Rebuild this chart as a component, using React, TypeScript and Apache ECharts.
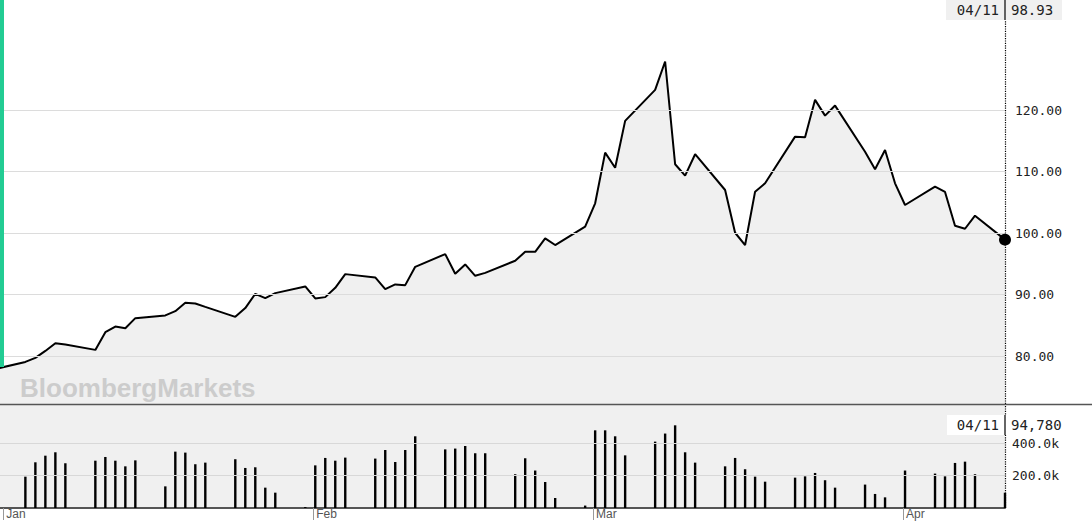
import React, { useEffect, useRef } from "react";
import * as echarts from "echarts";

const prevDate = "2021-12-31";
const prevClose = 77.9;

const tradeDates = [
  "2022-01-03","2022-01-04","2022-01-05","2022-01-06","2022-01-07",
  "2022-01-10","2022-01-11","2022-01-12","2022-01-13","2022-01-14",
  "2022-01-17","2022-01-18","2022-01-19","2022-01-20","2022-01-21",
  "2022-01-24","2022-01-25","2022-01-26","2022-01-27","2022-01-28",
  "2022-01-31","2022-02-01","2022-02-02","2022-02-03","2022-02-04",
  "2022-02-07","2022-02-08","2022-02-09","2022-02-10","2022-02-11",
  "2022-02-14","2022-02-15","2022-02-16","2022-02-17","2022-02-18",
  "2022-02-21","2022-02-22","2022-02-23","2022-02-24","2022-02-25",
  "2022-02-28","2022-03-01","2022-03-02","2022-03-03","2022-03-04",
  "2022-03-07","2022-03-08","2022-03-09","2022-03-10","2022-03-11",
  "2022-03-14","2022-03-15","2022-03-16","2022-03-17","2022-03-18",
  "2022-03-21","2022-03-22","2022-03-23","2022-03-24","2022-03-25",
  "2022-03-28","2022-03-29","2022-03-30","2022-03-31","2022-04-01",
  "2022-04-04","2022-04-05","2022-04-06","2022-04-07","2022-04-08",
  "2022-04-11",
];

const closes = [
  79.04, 79.7, 80.83, 82.08, 81.87,
  81.0, 83.88, 84.8, 84.53, 86.16,
  86.6, 87.3, 88.65, 88.55, 88.0,
  86.37, 87.8, 90.11, 89.41, 90.23,
  91.32, 89.36, 89.58, 91.09, 93.32,
  92.79, 90.88, 91.65, 91.53, 94.51,
  96.58, 93.37, 94.9, 93.05, 93.52,
  95.49, 96.95, 96.95, 99.14, 98.05,
  101.03, 104.84, 113.08, 110.63, 118.24,
  123.29, 127.9, 111.19, 109.33, 112.82,
  107.0, 100.05, 98.05, 106.73, 108.09,
  115.68, 115.59, 121.66, 119.1, 120.73,
  113.22, 110.37, 113.52, 108.09, 104.56,
  107.54, 106.68, 101.19, 100.7, 102.82,
  98.93,
];

const volumes = [
  194000, 283000, 324000, 345000, 277000,
  293000, 316000, 293000, 258000, 295000,
  134000, 349000, 343000, 271000, 281000,
  302000, 248000, 252000, 126000, 95000,
  6000, 264000, 310000, 293000, 312000,
  306000, 359000, 285000, 359000, 444000,
  363000, 368000, 384000, 339000, 339000,
  209000, 308000, 232000, 161000, 62000,
  15000, 481000, 481000, 444000, 326000,
  411000, 461000, 512000, 345000, 281000,
  258000, 310000, 240000, 194000, 163000,
  188000, 196000, 217000, 172000, 126000,
  145000, 87000, 66000, 0, 232000,
  213000, 196000, 279000, 287000, 209000,
  94780,
];

const priceTicks = [80, 90, 100, 110, 120];
const volumeTicks = [200000, 400000];
const monthStarts = ["2022-01-01", "2022-02-01", "2022-03-01", "2022-04-01"];
const monthLabels = ["Jan", "Feb", "Mar", "Apr"];

// quotes are stamped a few hours after midnight UTC
const stampTime = "T05:00:00Z";

const DAY = 86400000;
const MONO = "DejaVu Sans Mono";

export default function App() {
  const ref = useRef<HTMLDivElement>(null);

  useEffect(() => {
    if (!ref.current) return;
    const chart = echarts.init(ref.current, null, { renderer: "svg" });

    const ts = (d: string) => new Date(d + stampTime).getTime();
    const midnight = (d: string) => new Date(d + "T00:00:00Z").getTime();
    const priceData = [[ts(prevDate), prevClose]].concat(
      tradeDates.map((d, i) => [ts(d), closes[i]])
    );
    const volData = tradeDates.map((d, i) => [ts(d), volumes[i]]);
    const lastIdx = tradeDates.length - 1;
    const lastTs = ts(tradeDates[lastIdx]);
    const lastClose = closes[lastIdx];
    const lastVol = volumes[lastIdx];
    const lastLabel = tradeDates[lastIdx].slice(5, 7) + "/" + tradeDates[lastIdx].slice(8, 10);
    const monthTs = monthStarts.map(midnight);

    const xMin = midnight(monthStarts[0]) - 0.33 * DAY;
    const xMax = lastTs;
    const plotW = 1005;

    const option: any = {
      animation: false,
      backgroundColor: "#ffffff",
      grid: [
        { left: 0, top: 0, width: plotW, height: 404, show: false },
        {
          left: 0, top: 405, width: plotW, height: 103,
          show: true, backgroundColor: "#f0f0f0", borderWidth: 0,
        },
      ],
      xAxis: [
        {
          type: "value", gridIndex: 0, min: xMin, max: xMax,
          axisLine: { show: false }, axisTick: { show: false },
          axisLabel: { show: false }, splitLine: { show: false },
        },
        {
          type: "value", gridIndex: 1, min: xMin, max: xMax,
          axisLine: { show: true, onZero: false, lineStyle: { color: "#555555", width: 2 } },
          axisTick: {
            show: true, customValues: monthTs, length: 12, inside: false,
            lineStyle: { color: "#999999", width: 1 },
          },
          axisLabel: {
            show: true, customValues: monthTs, align: "left", margin: 0,
            padding: [0, 0, 0, 3], color: "#555555", fontSize: 12,
            fontFamily: "Liberation Sans",
            formatter: (v: number) => {
              const i = monthTs.indexOf(v);
              return i >= 0 ? monthLabels[i] : "";
            },
          },
          splitLine: { show: false },
        },
      ],
      yAxis: [
        {
          type: "value", gridIndex: 0, min: 72.2, max: 137.9,
          axisLine: { show: false }, axisTick: { show: false },
          axisLabel: { show: false }, splitLine: { show: false },
        },
        {
          type: "value", gridIndex: 1, min: 0, max: 637800,
          axisLine: { show: false }, axisTick: { show: false },
          axisLabel: { show: false }, splitLine: { show: false },
        },
      ],
      series: [
        {
          name: "area", type: "line", xAxisIndex: 0, yAxisIndex: 0, z: 1,
          data: priceData, symbol: "none", silent: true,
          lineStyle: { width: 0, opacity: 0 },
          areaStyle: { color: "#f0f0f0", opacity: 1, origin: "start" },
        },
        {
          name: "priceGrid", type: "line", xAxisIndex: 0, yAxisIndex: 0, z: 2,
          data: priceData, symbol: "none", silent: true,
          lineStyle: { width: 0, opacity: 0 },
          markLine: {
            silent: true, symbol: "none", animation: false,
            lineStyle: { color: "#dcdcdc", width: 1, type: "solid" },
            label: {
              show: true, position: "end", distance: 10,
              color: "#222222", fontFamily: MONO, fontSize: 13,
              formatter: (p: any) => Number(p.value).toFixed(2),
            },
            data: priceTicks.map((v) => ({ yAxis: v })),
          },
        },
        {
          name: "price", type: "line", xAxisIndex: 0, yAxisIndex: 0, z: 3,
          data: priceData, symbol: "none",
          lineStyle: { color: "#000000", width: 2 },
          markPoint: {
            symbol: "circle", symbolSize: 12,
            itemStyle: { color: "#000000" },
            label: { show: false },
            data: [{ coord: [lastTs, lastClose] }],
          },
          markLine: {
            silent: true, symbol: "none", animation: false,
            lineStyle: { color: "#000000", width: 1.2, type: "dotted" },
            label: { show: false },
            data: [{ xAxis: lastTs }],
          },
        },
        {
          name: "volGrid", type: "line", xAxisIndex: 1, yAxisIndex: 1, z: 1,
          data: volData, symbol: "none", silent: true,
          lineStyle: { width: 0, opacity: 0 },
          markLine: {
            silent: true, symbol: "none", animation: false,
            lineStyle: { color: "#d8d8d8", width: 1, type: "solid" },
            label: {
              show: true, position: "end", distance: 7,
              color: "#222222", fontFamily: MONO, fontSize: 13,
              formatter: (p: any) => (Number(p.value) / 1000).toFixed(1) + "k",
            },
            data: volumeTicks.map((v) => ({ yAxis: v })),
          },
        },
        {
          name: "volume", type: "bar", xAxisIndex: 1, yAxisIndex: 1, z: 3,
          data: volData, barWidth: 2.4,
          itemStyle: { color: "#000000" },
          markLine: {
            silent: true, symbol: "none", animation: false,
            lineStyle: { color: "#000000", width: 1.2, type: "dotted" },
            label: { show: false },
            data: [{ xAxis: lastTs }],
          },
        },
      ],
      graphic: [
        {
          type: "rect", z: 100,
          shape: { x: 0, y: 0, width: 4, height: 367 },
          style: { fill: "#22cc93" },
        },
        {
          type: "text", z: 100, left: 20, top: 375,
          style: {
            text: "BloombergMarkets", fill: "#cccccc",
            font: "bold 26px 'Liberation Sans'",
          },
        },
        {
          type: "line", z: 100,
          shape: { x1: 0, y1: 404.5, x2: 1092, y2: 404.5 },
          style: { stroke: "#555555", lineWidth: 1.6 },
        },
        {
          type: "rect", z: 100,
          shape: { x: 946, y: 0, width: 116, height: 20 },
          style: { fill: "#f0f0f0" },
        },
        {
          type: "line", z: 101,
          shape: { x1: 1005, y1: 0, x2: 1005, y2: 20 },
          style: { stroke: "#333333", lineWidth: 1.5 },
        },
        {
          type: "text", z: 101, x: 999, y: 10,
          style: {
            text: lastLabel, fill: "#222222", align: "right", verticalAlign: "middle",
            font: `14px '${MONO}'`,
          },
        },
        {
          type: "text", z: 101, x: 1011, y: 10,
          style: {
            text: lastClose.toFixed(2), fill: "#222222", align: "left", verticalAlign: "middle",
            font: `14px '${MONO}'`,
          },
        },
        {
          type: "rect", z: 100,
          shape: { x: 947, y: 415, width: 125, height: 20 },
          style: { fill: "#ffffff" },
        },
        {
          type: "line", z: 101,
          shape: { x1: 1005, y1: 415, x2: 1005, y2: 435 },
          style: { stroke: "#333333", lineWidth: 1.5 },
        },
        {
          type: "text", z: 101, x: 999, y: 425,
          style: {
            text: lastLabel, fill: "#222222", align: "right", verticalAlign: "middle",
            font: `14px '${MONO}'`,
          },
        },
        {
          type: "text", z: 101, x: 1011, y: 425,
          style: {
            text: lastVol.toLocaleString("en-US"), fill: "#222222", align: "left",
            verticalAlign: "middle", font: `14px '${MONO}'`,
          },
        },
      ],
    };

    chart.setOption(option);
    return () => chart.dispose();
  }, []);

  return (
    <div
      ref={ref}
      style={{ position: "fixed", left: 0, top: 0, width: 1092, height: 525, background: "#fff" }}
    />
  );
}
